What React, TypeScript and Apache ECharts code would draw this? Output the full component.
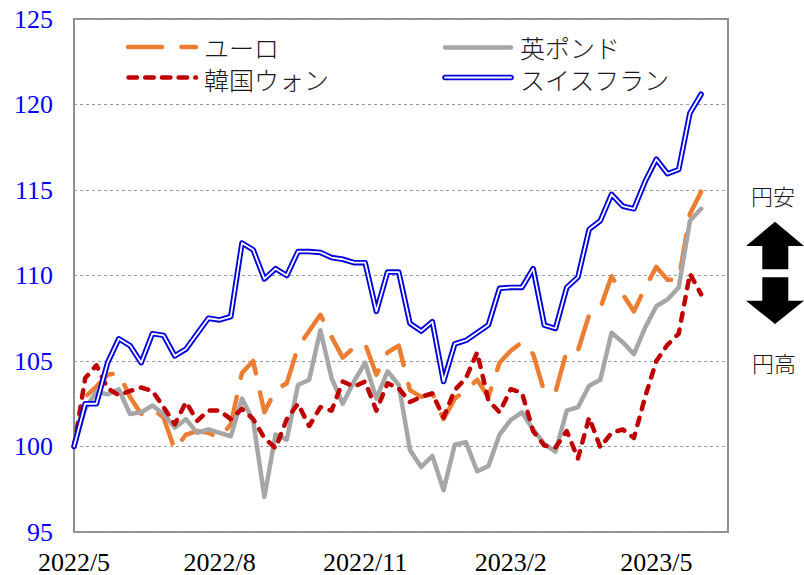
import React, { useEffect, useRef } from "react";
import * as echarts from "echarts";

// ---- data (weekly index, 2022/5 = 100) ----
const tickLabels = ["2022/5", "2022/8", "2022/11", "2023/2", "2023/5"];
const weeksPerTick = 13;
const seriesNames = ["ユーロ", "英ポンド", "韓国ウォン", "スイスフラン"];

const euro = [
  100, 102.9, 103.5, 104.2, 104.3, 102.9, 101.9, 102.2, 101.7, 99.8,
  100.7, 100.9, 100.8, 100.5, 101.3, 104.3, 105.0, 102.0, 103.3, 103.7,
  105.8, 106.75, 107.7, 106.4, 105.2, 105.8, 106.0, 104.2, 105.5, 105.9,
  103.3, 102.9, 103.1, 101.6, 102.8, 103.3, 103.9, 102.9, 104.9, 105.6,
  106.1, 105.4, 103.2, 103.2, 105.6, 105.6, 107.7, 108.1, 109.95, 108.9,
  107.9, 109.3, 110.5, 109.75, 109.75, 113.6, 114.9,
];
const gbp = [
  100, 102.2, 103.2, 103.05, 103.35, 101.9, 102.0, 102.4, 101.9, 101.1,
  101.6, 100.8, 101.0, 100.8, 100.6, 102.8, 101.5, 97.05, 100.7, 100.4,
  103.6, 103.9, 106.8, 104.0, 102.5, 103.8, 104.9, 102.8, 104.4, 103.6,
  99.8, 98.8, 99.45, 97.45, 100.1, 100.25, 98.55, 98.85, 100.7, 101.55,
  102.0, 101.0, 100.15, 99.7, 102.1, 102.3, 103.55, 103.9, 106.65, 106.1,
  105.4, 106.95, 108.2, 108.6, 109.3, 113.2, 113.9,
];
const krw = [
  100, 104.0, 104.75, 103.4, 103.0, 103.25, 103.45, 103.25, 102.3, 101.3,
  102.6, 101.5, 102.1, 102.1, 101.6, 102.2, 101.6, 100.5, 99.9, 101.6,
  102.5, 101.2, 102.3, 102.1, 103.8, 103.5, 103.8, 102.1, 103.7, 103.4,
  102.6, 102.9, 103.1, 101.7, 103.3, 104.0, 105.5, 102.7, 102.0, 103.35,
  103.15, 100.9, 100.05, 99.95, 100.9, 99.3, 101.7, 99.95, 100.8, 101.0,
  100.5, 102.9, 105.0, 105.95, 106.6, 110.1, 108.9,
];
const chf = [
  100, 102.5, 102.5, 104.9, 106.3, 105.9, 104.9, 106.6, 106.5, 105.3,
  105.7, 106.6, 107.5, 107.4, 107.6, 111.9, 111.5, 109.8, 110.4, 110.0,
  111.4, 111.4, 111.35, 111.05, 110.95, 110.75, 110.75, 107.9, 110.2, 110.2,
  107.2, 106.75, 107.3, 103.8, 106.0, 106.2, 106.65, 107.1, 109.25, 109.3,
  109.3, 110.4, 107.1, 106.9, 109.3, 109.9, 112.7, 113.2, 114.75, 114.05,
  113.9, 115.5, 116.8, 115.95, 116.2, 119.5, 120.6,
];

const toPairs = (arr: number[]) => arr.map((v, i) => [i, v]);

const SERIF = "Liberation Serif";
const JP = "Noto Sans CJK JP";

export default function App() {
  const ref = useRef<HTMLDivElement>(null);

  useEffect(() => {
    if (!ref.current) return;
    const chart = echarts.init(ref.current, undefined, { renderer: "svg" });

    const legendText = (x: number, y: number, text: string) => ({
      type: "text",
      x,
      y,
      silent: true,
      style: {
        text,
        fontSize: 25,
        lineHeight: 26,
        fontWeight: 300,
        fontFamily: JP,
        fill: "#1a1a1a",
        align: "left",
        verticalAlign: "middle",
      },
    });

    chart.setOption({
      animation: false,
      backgroundColor: "#ffffff",
      grid: {
        left: 74,
        top: 19,
        right: 76,
        bottom: 40,
        show: true,
        borderColor: "#8f8f8f",
        borderWidth: 2,
        backgroundColor: "transparent",
      },
      xAxis: {
        type: "value",
        min: 0,
        max: 58.4,
        interval: weeksPerTick,
        axisLine: { show: false },
        axisTick: { show: false },
        splitLine: { show: false },
        axisLabel: {
          color: "#000",
          fontSize: 26,
          fontFamily: SERIF,
          margin: 17,
          showMaxLabel: false,
          formatter: (v: number) => {
            const k = Math.round(v / weeksPerTick);
            return Math.abs(v - k * weeksPerTick) < 1e-6 ? tickLabels[k] ?? "" : "";
          },
        },
      },
      yAxis: {
        type: "value",
        min: 95,
        max: 125,
        interval: 5,
        axisLine: { show: false },
        axisTick: { show: false },
        splitLine: {
          show: true,
          lineStyle: { color: "#9a9a9a", width: 1, type: [3, 3] },
        },
        axisLabel: {
          color: "#0000ff",
          fontSize: 26,
          fontFamily: SERIF,
          margin: 21,
        },
      },
      series: [
        {
          name: seriesNames[0],
          type: "line",
          data: toPairs(euro),
          symbol: "none",
          silent: true,
          z: 2,
          lineStyle: { color: "#ed7d31", width: 4.5, type: [34, 19.5], cap: "round", join: "round" },
        },
        {
          name: seriesNames[1],
          type: "line",
          data: toPairs(gbp),
          symbol: "none",
          silent: true,
          z: 3,
          lineStyle: { color: "#a6a6a6", width: 4.5, cap: "round", join: "round" },
        },
        {
          name: seriesNames[2],
          type: "line",
          data: toPairs(krw),
          symbol: "none",
          silent: true,
          z: 4,
          lineStyle: { color: "#c00000", width: 4.5, type: [7.5, 9], cap: "round", join: "round" },
        },
        {
          name: seriesNames[3],
          type: "line",
          data: toPairs(chf),
          symbol: "none",
          silent: true,
          z: 5,
          lineStyle: { color: "#0000dd", width: 5.5, cap: "round", join: "round" },
        },
        {
          name: seriesNames[3] + "-inner",
          type: "line",
          data: toPairs(chf),
          symbol: "none",
          silent: true,
          z: 6,
          lineStyle: { color: "#ffffff", width: 1.8, cap: "round", join: "round" },
        },
      ],
      graphic: [
        // legend
        {
          type: "line",
          silent: true,
          shape: { x1: 128, y1: 47, x2: 196, y2: 47 },
          style: { stroke: "#ed7d31", lineWidth: 4.5, lineDash: [34, 19.5], lineCap: "round" },
        },
        legendText(204, 47, seriesNames[0]),
        {
          type: "line",
          silent: true,
          shape: { x1: 128.5, y1: 77.5, x2: 196, y2: 77.5 },
          style: { stroke: "#c00000", lineWidth: 4.5, lineDash: [8.5, 8.2], lineCap: "round" },
        },
        legendText(204, 78.5, seriesNames[2]),
        {
          type: "line",
          silent: true,
          shape: { x1: 445, y1: 47.5, x2: 511, y2: 47.5 },
          style: { stroke: "#a6a6a6", lineWidth: 4.5, lineCap: "round" },
        },
        legendText(520, 47, seriesNames[1]),
        {
          type: "line",
          silent: true,
          shape: { x1: 445, y1: 77.5, x2: 511, y2: 77.5 },
          style: { stroke: "#0000dd", lineWidth: 5.5, lineCap: "round" },
        },
        {
          type: "line",
          silent: true,
          shape: { x1: 445, y1: 77.5, x2: 511, y2: 77.5 },
          style: { stroke: "#ffffff", lineWidth: 1.8, lineCap: "round" },
        },
        legendText(520, 78.5, seriesNames[3]),
        // right-side annotation
        {
          type: "text",
          x: 773,
          y: 195,
          silent: true,
          style: { text: "円安", fontSize: 22, fontWeight: 300, fontFamily: JP, fill: "#1a1a1a", align: "center", verticalAlign: "middle" },
        },
        {
          type: "text",
          x: 774,
          y: 362,
          silent: true,
          style: { text: "円高", fontSize: 22, fontWeight: 300, fontFamily: JP, fill: "#1a1a1a", align: "center", verticalAlign: "middle" },
        },
        {
          type: "polygon",
          silent: true,
          shape: {
            points: [
              [775, 221.7], [804, 246], [788.3, 246], [788.3, 269.3],
              [762.3, 269.3], [762.3, 246], [746, 246],
            ],
          },
          style: { fill: "#000" },
        },
        {
          type: "polygon",
          silent: true,
          shape: {
            points: [
              [762.3, 277.3], [788.3, 277.3], [788.3, 300.7], [804, 300.7],
              [775, 324], [746, 300.7], [762.3, 300.7],
            ],
          },
          style: { fill: "#000" },
        },
      ],
    });

    return () => chart.dispose();
  }, []);

  return (
    <div
      ref={ref}
      style={{ position: "fixed", left: 0, top: 0, width: 804, height: 575, background: "#fff" }}
    />
  );
}
